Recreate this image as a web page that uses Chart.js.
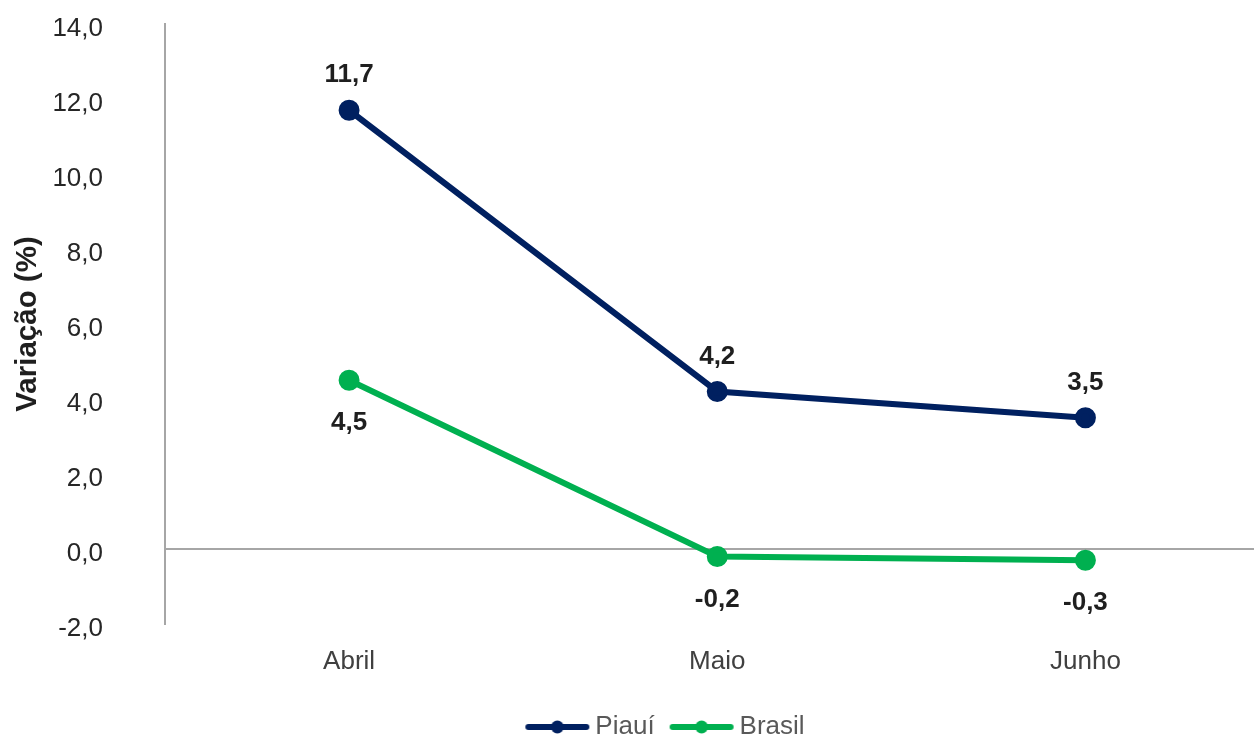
<!DOCTYPE html>
<html>
<head>
<meta charset="utf-8">
<script src="https://cdn.jsdelivr.net/npm/chart.js@4"></script>
<style>
  html,body{margin:0;padding:0;background:#fff;overflow:hidden;width:1254px;height:737px}
  #wrap{width:1283px;height:737px}
  canvas{display:block}
</style>
</head>
<body>
<div id="wrap"><canvas id="c" width="1283" height="737"></canvas></div>
<script>
const MESES  = ['Abril','Maio','Junho'];
const PIAUI  = [11.7, 4.2, 3.5];
const BRASIL = [4.5, -0.2, -0.3];
const Y_MIN = -2, Y_MAX = 14, Y_STEP = 2;

const NAVY = '#002060', GREEN = '#00b050';
const FONT = '"Liberation Sans", Arial, sans-serif';
const fmt = v => v.toFixed(1).replace('.', ',');

// line+dot swatch for the legend, with transparent margins so the
// legend box stays compact
function swatch(color){
  const c = document.createElement('canvas');
  c.width = 140; c.height = 16;
  const x = c.getContext('2d');
  x.strokeStyle = color; x.lineWidth = 6; x.lineCap = 'round';
  x.beginPath(); x.moveTo(50, 8); x.lineTo(108, 8); x.stroke();
  x.fillStyle = color;
  x.beginPath(); x.arc(79, 8, 6.5, 0, Math.PI*2); x.fill();
  return c;
}

// value labels above (Piauí) / below (Brasil) each point
const valueLabels = {
  id:'valueLabels',
  afterDatasetsDraw(chart){
    const ctx = chart.ctx;
    ctx.save();
    ctx.font = 'bold 26px ' + FONT;
    ctx.fillStyle = '#1f1f1f';
    ctx.textAlign = 'center';
    ctx.textBaseline = 'middle';
    chart.data.datasets.forEach((ds, di) => {
      chart.getDatasetMeta(di).data.forEach((pt, i) => {
        const dy = ds.labelPos === 'above' ? -35 : 43;
        ctx.fillText(fmt(ds.data[i]), pt.x, pt.y + dy);
      });
    });
    ctx.restore();
  }
};

// move the legend block right and down a little
const legendShift = {
  id:'legendShift',
  afterLayout(chart){
    const lg = chart.legend;
    if(!lg) return;
    lg.left += 18; lg.right += 18;
    lg.top += 13; lg.bottom += 13;
  }
};

new Chart(document.getElementById('c'), {
  type:'line',
  data:{
    labels: MESES,
    datasets:[
      {label:'Piauí', data:PIAUI, borderColor:NAVY, backgroundColor:NAVY, borderWidth:6,
       pointRadius:7.5, pointHoverRadius:7.5, tension:0, labelPos:'above'},
      {label:'Brasil', data:BRASIL, borderColor:GREEN, backgroundColor:GREEN, borderWidth:6,
       pointRadius:7.5, pointHoverRadius:7.5, tension:0, labelPos:'below'},
    ]
  },
  options:{
    responsive:false,
    animation:false,
    layout:{padding:{top:24, right:0, bottom:0, left:0}},
    plugins:{
      tooltip:{enabled:false},
      legend:{
        position:'bottom',
        labels:{
          usePointStyle:true, pointStyleWidth:68, boxHeight:16, padding:4,
          color:'#595959', font:{family:FONT, size:26},
          generateLabels: chart => chart.data.datasets.map((ds, i) => ({
            text: ds.label, pointStyle: swatch(ds.borderColor), fontColor:'#595959',
            lineWidth:0, strokeStyle:'transparent', fillStyle:'transparent', datasetIndex:i
          }))
        }
      }
    },
    scales:{
      x:{
        offset:true,
        afterFit: s => { s.height = 73; },
        grid:{display:false, drawTicks:false},
        border:{display:false},
        ticks:{color:'#404040', padding:22, font:{family:FONT, size:26}}
      },
      y:{
        min:Y_MIN, max:Y_MAX,
        afterFit: s => { s.width = 165; },
        grid:{drawTicks:true, tickLength:54, tickColor:'transparent',
              color: c => c.tick && c.tick.value === 0 ? '#a6a6a6' : 'transparent', lineWidth:2},
        border:{display:true, color:'#a6a6a6', width:2},
        ticks:{stepSize:Y_STEP, padding:8, labelOffset:5, color:'#262626', callback: v => fmt(v),
               font:{family:FONT, size:26}},
        title:{display:true, text:'Variação (%)', color:'#1f1f1f', padding:{top:10, bottom:0},
               font:{family:FONT, size:29.5, weight:'bold'}}
      }
    }
  },
  plugins:[valueLabels, legendShift]
});
</script>
</body>
</html>
